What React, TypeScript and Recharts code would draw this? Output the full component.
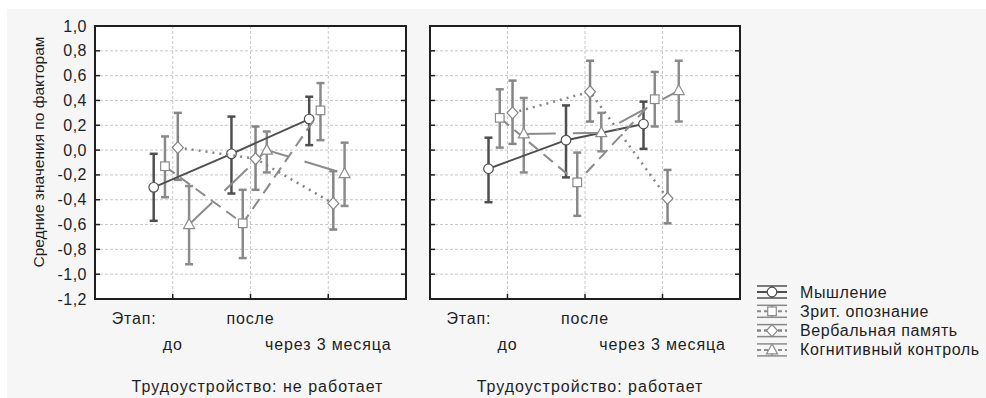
import React from "react";
import {
  ScatterChart,
  Scatter,
  XAxis,
  YAxis,
  CartesianGrid,
  ErrorBar,
  ReferenceArea,
} from "recharts";

const stages = ["до", "после", "через 3 месяца"];
const yTicks = [-1.2, -1.0, -0.8, -0.6, -0.4, -0.2, 0, 0.2, 0.4, 0.6, 0.8, 1.0];

// Трудоустройство: не работает
const thinkNW = [-0.3, -0.03, 0.25];
const thinkNWLow = [-0.57, -0.35, 0.04];
const thinkNWHigh = [-0.03, 0.27, 0.43];
const visualNW = [-0.13, -0.59, 0.32];
const visualNWLow = [-0.38, -0.87, 0.08];
const visualNWHigh = [0.11, -0.32, 0.54];
const verbalNW = [0.02, -0.07, -0.43];
const verbalNWLow = [-0.24, -0.32, -0.64];
const verbalNWHigh = [0.3, 0.19, -0.17];
const controlNW = [-0.6, 0.0, -0.19];
const controlNWLow = [-0.92, -0.18, -0.45];
const controlNWHigh = [-0.29, 0.15, 0.06];

// Трудоустройство: работает
const thinkW = [-0.15, 0.08, 0.21];
const thinkWLow = [-0.42, -0.22, 0.01];
const thinkWHigh = [0.1, 0.36, 0.39];
const visualW = [0.26, -0.26, 0.41];
const visualWLow = [0.02, -0.53, 0.19];
const visualWHigh = [0.49, -0.02, 0.63];
const verbalW = [0.3, 0.47, -0.39];
const verbalWLow = [0.05, 0.23, -0.59];
const verbalWHigh = [0.56, 0.72, -0.16];
const controlW = [0.13, 0.14, 0.48];
const controlWLow = [-0.18, -0.01, 0.23];
const controlWHigh = [0.42, 0.3, 0.72];

const seriesNames = ["Мышление", "Зрит. опознание", "Вербальная память", "Когнитивный контроль"];

type Kind = "circle" | "square" | "diamond" | "triangle";

const STYLES: { color: string; dash?: string; width: number; kind: Kind; offset: number }[] = [
  { color: "#4f4f4f", width: 2, kind: "circle", offset: -0.245 },
  { color: "#8a8a8a", dash: "12 7", width: 2, kind: "square", offset: -0.1 },
  { color: "#858585", dash: "2 5", width: 2.5, kind: "diamond", offset: 0.065 },
  { color: "#8c8c8c", dash: "32 17", width: 2, kind: "triangle", offset: 0.21 },
];

const FONT = "'Liberation Sans', Arial, sans-serif";
const TXT = "#1e1e1e";

const fmt = (v: number) => v.toFixed(1).replace(".", ",");

function rows(mean: number[], lo: number[], hi: number[], offset: number) {
  return stages.map((_, i) => ({
    x: i + 1 + offset,
    y: mean[i],
    err: [mean[i] - lo[i], hi[i] - mean[i]],
  }));
}

const Marker = ({ cx, cy, kind, color }: { cx: number; cy: number; kind: Kind; color: string }) => {
  const p = { fill: "#fff", stroke: color, strokeWidth: 1.2 };
  if (kind === "circle") return <circle cx={cx} cy={cy} r={4.8} {...p} />;
  if (kind === "square") return <rect x={cx - 4.3} y={cy - 4.3} width={8.6} height={8.6} {...p} />;
  if (kind === "diamond")
    return <polygon points={`${cx},${cy - 6} ${cx + 5.5},${cy} ${cx},${cy + 6} ${cx - 5.5},${cy}`} {...p} />;
  return <polygon points={`${cx},${cy - 6} ${cx + 5.5},${cy + 4} ${cx - 5.5},${cy + 4}`} {...p} />;
};

const YTick = (props: any) => {
  const { x, y, payload, plotW, showLabel } = props;
  return (
    <g>
      {showLabel && (
        <text x={x - 8} y={y} dy={5.5} textAnchor="end" fontSize={16} letterSpacing={0.5} fontFamily={FONT} fill={TXT}>
          {fmt(payload.value)}
        </text>
      )}
      <line x1={x} x2={x + 5} y1={y} y2={y} stroke="#222" strokeWidth={1.5} />
      <line x1={x + plotW - 5} x2={x + plotW} y1={y} y2={y} stroke="#222" strokeWidth={1.5} />
    </g>
  );
};

const XTick = (props: any) => {
  const { x, y, payload, index } = props;
  const label = stages[payload.value - 1];
  return (
    <g fontSize={16} fontFamily={FONT} fill={TXT} letterSpacing={0.85}>
      <line x1={x} x2={x} y1={y} y2={y - 5} stroke="#222" strokeWidth={1.5} />
      {index === 0 && (
        <text x={x - 61} y={y + 25} textAnchor="start">
          Этап:
        </text>
      )}
      <text x={x} y={index === 1 ? y + 25 : y + 51} textAnchor="middle">
        {label}
      </text>
    </g>
  );
};

type PanelProps = {
  series: { mean: number[]; lo: number[]; hi: number[] }[];
  width: number;
  axisW: number;
  showLabels: boolean;
};

const Panel = ({ series, width, axisW, showLabels }: PanelProps) => {
  const margin = { top: 26, right: 14, bottom: 0, left: 0 };
  const plotW = width - axisW - margin.right;
  return (
    <ScatterChart width={width} height={356} margin={margin}>
      <CartesianGrid stroke="#c8c8c8" strokeDasharray="3 2" fill="#fff" />
      <XAxis
        type="number"
        dataKey="x"
        domain={[0, 4]}
        ticks={[1, 2, 3]}
        interval={0}
        height={57}
        tickSize={0}
        tickMargin={0}
        axisLine={false}
        tickLine={false}
        tick={(p: any) => <XTick {...p} />}
      />
      <YAxis
        type="number"
        dataKey="y"
        domain={[-1.2, 1.0]}
        ticks={yTicks}
        interval={0}
        width={axisW}
        tickSize={0}
        tickMargin={0}
        axisLine={false}
        tickLine={false}
        tick={(p: any) => <YTick {...p} plotW={plotW} showLabel={showLabels} />}
      />
      {series.map((s, i) => {
        const st = STYLES[i];
        return (
          <Scatter
            key={seriesNames[i]}
            name={seriesNames[i]}
            data={rows(s.mean, s.lo, s.hi, st.offset)}
            fill={st.color}
            line={{ stroke: st.color, strokeWidth: st.width, strokeDasharray: st.dash }}
            lineType="joint"
            isAnimationActive={false}
            shape={(p: any) => <Marker cx={p.cx} cy={p.cy} kind={st.kind} color={st.color} />}
          >
            <ErrorBar dataKey="err" direction="y" width={4} stroke={st.color} strokeWidth={2.5} />
          </Scatter>
        );
      })}
      <ReferenceArea x1={0} x2={4} y1={-1.2} y2={1.0} fill="none" stroke="#1e1e1e" strokeWidth={2} />
    </ScatterChart>
  );
};

const LegendSymbol = ({ cy, i }: { cy: number; i: number }) => {
  const st = STYLES[i];
  return (
    <g>
      <line x1={7} x2={37} y1={cy - 6} y2={cy - 6} stroke={st.color} strokeWidth={1.5} />
      <line x1={7} x2={37} y1={cy + 6} y2={cy + 6} stroke={st.color} strokeWidth={1.5} />
      <line x1={22} x2={22} y1={cy - 6} y2={cy + 6} stroke={st.color} strokeWidth={1.5} />
      <line x1={7} x2={37} y1={cy} y2={cy} stroke={st.color} strokeWidth={st.width} strokeDasharray={st.dash ? "4 3" : undefined} />
      <Marker cx={22} cy={cy} kind={st.kind} color={st.color} />
    </g>
  );
};

export default function App() {
  const left = [
    { mean: thinkNW, lo: thinkNWLow, hi: thinkNWHigh },
    { mean: visualNW, lo: visualNWLow, hi: visualNWHigh },
    { mean: verbalNW, lo: verbalNWLow, hi: verbalNWHigh },
    { mean: controlNW, lo: controlNWLow, hi: controlNWHigh },
  ];
  const right = [
    { mean: thinkW, lo: thinkWLow, hi: thinkWHigh },
    { mean: visualW, lo: visualWLow, hi: visualWHigh },
    { mean: verbalW, lo: verbalWLow, hi: verbalWHigh },
    { mean: controlW, lo: controlWLow, hi: controlWHigh },
  ];
  const title = { position: "absolute" as const, top: 378, width: 400, textAlign: "center" as const, fontSize: 16, letterSpacing: 1.0, fontFamily: FONT, color: TXT, lineHeight: "18px" };
  return (
    <div style={{ position: "relative", width: 986, height: 398, background: "#fff", overflow: "hidden" }}>
      <style>{"body{margin:0}"}</style>
      <div style={{ position: "absolute", left: 7, top: 9, right: 0, bottom: 0, background: "#f6f6f6" }} />
      <div style={{ position: "absolute", left: 0, top: 0 }}>
        <Panel series={left} width={420} axisW={95} showLabels />
      </div>
      <div style={{ position: "absolute", left: 410, top: 0 }}>
        <Panel series={right} width={344} axisW={20} showLabels={false} />
      </div>
      <div
        style={{
          position: "absolute",
          left: 39 - 150,
          top: 152 - 9,
          width: 300,
          lineHeight: "18px",
          textAlign: "center",
          transform: "rotate(-90deg)",
          fontSize: 15.5,
          fontFamily: FONT,
          color: TXT,
        }}
      >
        Средние значения по факторам
      </div>
      <div style={{ ...title, left: 257.5 - 200 }}>Трудоустройство: не работает</div>
      <div style={{ ...title, left: 590 - 200 }}>Трудоустройство: работает</div>
      <svg style={{ position: "absolute", left: 750, top: 275 }} width={236} height={90}>
        {seriesNames.map((n, i) => {
          const cy = 17 + i * 19.3;
          return (
            <g key={n}>
              <LegendSymbol cy={cy} i={i} />
              <text x={50} y={cy + 5.5} fontSize={16} letterSpacing={0.6} fontFamily={FONT} fill={TXT}>
                {n}
              </text>
            </g>
          );
        })}
      </svg>
    </div>
  );
}
